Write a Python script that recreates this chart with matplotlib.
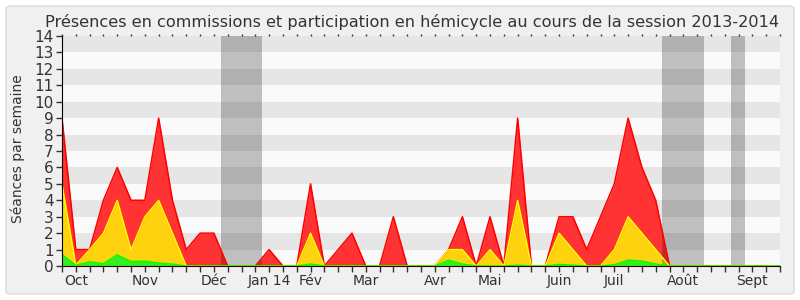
import matplotlib
matplotlib.use("Agg")
import matplotlib.pyplot as plt
from matplotlib.patches import FancyBboxPatch

# weekly values, week 0 .. 52
weeks = list(range(53))
red = [9, 1, 1, 4, 6, 4, 4, 9, 4, 1, 2, 2, 0, 0, 0, 1, 0, 0, 5, 0,
       1, 2, 0, 0, 3, 0, 0, 0, 1, 3, 0, 3, 0, 9, 0, 0, 3, 3, 1, 3,
       5, 9, 6, 4, 0, 0, 0, 0, 0, 0, 0, 0, 0]
yellow = [5, 0.05, 1, 2, 4, 1, 3, 4, 2, 0, 0, 0, 0, 0, 0, 0, 0, 0, 2, 0,
          0, 0, 0, 0, 0, 0, 0, 0, 1, 1, 0, 1, 0, 4, 0, 0, 2, 1, 0, 0,
          1, 3, 2, 1, 0, 0, 0, 0, 0, 0, 0, 0, 0]
green = [0.7, 0.05, 0.25, 0.15, 0.68, 0.27, 0.3, 0.18, 0.12, 0, 0, 0, 0, 0, 0, 0, 0, 0, 0.12, 0,
         0, 0, 0, 0, 0, 0, 0, 0, 0.36, 0.12, 0, 0, 0, 0.05, 0, 0, 0.1, 0.05, 0, 0,
         0.08, 0.36, 0.3, 0.12, 0, 0, 0, 0, 0, 0, 0, 0, 0]

month_pos = [1, 6, 11, 15, 18, 22, 27, 31, 36, 40, 45, 50]
month_labels = ["Oct", "Nov", "Déc", "Jan 14", "Fév", "Mar", "Avr", "Mai",
                "Juin", "Juil", "Août", "Sept"]

# vacances (en semaines)
breaks = [(11.5, 14.5), (43.45, 46.5), (48.42, 49.5)]

txt = "#333333"

fig = plt.figure(figsize=(8, 3), dpi=100)
fig.patch.set_facecolor("white")
fig.patches.append(FancyBboxPatch((6 / 800, 6 / 300), 788 / 800, 288 / 300,
                                  boxstyle="round,pad=0,rounding_size=0.008",
                                  transform=fig.transFigure, facecolor="#F0F0F0",
                                  edgecolor="#E0E0E0", linewidth=1.2, zorder=-10))

ax = fig.add_axes([62 / 800, 34 / 300, 718 / 800, 230 / 300])
ax.set_facecolor("#FAFAFA")
for k in range(1, 14, 2):
    ax.axhspan(k, k + 1, color="#E6E6E6", lw=0, zorder=0)

ax.fill_between(weeks, 0, red, color="#FF3333", lw=0, zorder=2)
ax.fill_between(weeks, 0, yellow, color="#FFD20F", lw=0, zorder=3)
ax.fill_between(weeks, 0, green, color="#33EE22", lw=0, zorder=4)

for a, b in breaks:
    ax.axvspan(a, b, color="#101010", alpha=0.25, lw=0, zorder=5)

ax.plot(weeks, red, color="#FF0000", lw=1.1, zorder=6)
ax.plot(weeks, yellow, color="#FFFF00", lw=1.0, zorder=7)
ax.plot(weeks, green, color="#00FF00", lw=1.0, zorder=8)

ax.set_xlim(0, 52)
ax.set_ylim(0, 14)
ax.set_yticks(range(15))
ax.set_xticks(month_pos)
ax.set_xticklabels(month_labels)
ax.set_xticks(weeks, minor=True)
ax.tick_params(axis="y", labelsize=11, colors="#333333", length=4, width=1, pad=2)
ax.tick_params(axis="x", which="both", length=4, width=1, color="#333333", pad=2)
ax.tick_params(axis="x", which="major", labelsize=10, labelcolor=txt)
for s in ["top", "right"]:
    ax.spines[s].set_visible(False)
ax.spines["left"].set_color("#000000")
ax.spines["bottom"].set_color("#330000")
ax.spines["left"].set_zorder(9)
ax.spines["bottom"].set_zorder(9)

# petits repères en haut
top = ax.secondary_xaxis("top")
top.set_xticks(weeks)
top.set_xticklabels([])
top.tick_params(length=1.5, width=1, color="#333333")
top.spines["top"].set_visible(False)

fig.text(0.5156, 0.91, "Présences en commissions et participation en hémicycle au cours de la session 2013-2014",
         ha="center", va="baseline", fontsize=11.6, color=txt)
fig.text(0.022, 0.503, "Séances par semaine", rotation=90, ha="center", va="center",
         fontsize=10, color=txt)

fig.savefig("out.png", dpi=100, facecolor=fig.get_facecolor())
